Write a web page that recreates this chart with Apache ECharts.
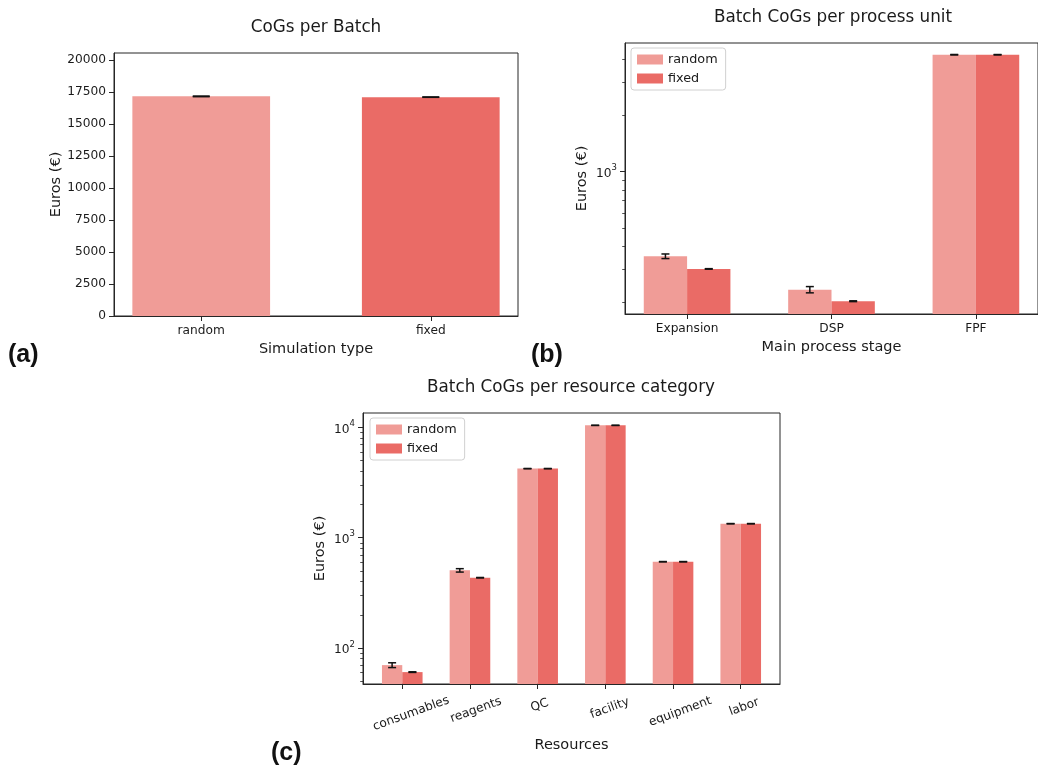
<!DOCTYPE html>
<html><head><meta charset="utf-8">
<script src="https://cdn.jsdelivr.net/npm/echarts@6/dist/echarts.min.js"></script>
<style>html,body{margin:0;padding:0;background:#fff}#c{width:1038px;height:767px}</style>
</head><body><div id="c"></div>
<script>
// ---------- data ----------
const simCategories = ['random', 'fixed'];
const simValues = [17170, 17110];
const simErrors = [25, 15];
const simTicks = [0, 2500, 5000, 7500, 10000, 12500, 15000, 17500, 20000];

const stageCategories = ['Expansion', 'DSP', 'FPF'];
const stageRandom = [352, 233, 4240];
const stageFixed = [301, 202, 4240];
const stageRandomErr = [10, 9, 12];
const stageFixedErr = [1, 1, 10];
const stageMajorTicks = [1000];
const stageMinorTicks = [200, 300, 400, 500, 600, 700, 800, 900, 2000, 3000, 4000];

const resourceCategories = ['consumables', 'reagents', 'QC', 'facility', 'equipment', 'labor'];
const resourceRandom = [70, 506, 4230, 10430, 606, 1340];
const resourceFixed = [60.5, 434, 4230, 10430, 606, 1340];
const resourceRandomErr = [3.5, 18, 10, 25, 2, 4];
const resourceFixedErr = [0.4, 2, 10, 25, 2, 4];
const resourceMajorTicks = [100, 1000, 10000];
const resourceMinorTicks = [50, 60, 70, 80, 90, 200, 300, 400, 500, 600, 700, 800, 900,
  2000, 3000, 4000, 5000, 6000, 7000, 8000, 9000];

// ---------- styles ----------
const FONT = 'DejaVu Sans';
const C_RANDOM = '#F09C97';
const C_FIXED = '#EA6B66';
const AX = '#262626';
const TXT = '#1a1a1a';
const TICK_FS = 12.2;

function barRender(offset, width) {
  return function (params, api) {
    const x = api.value(0), y = api.value(1);
    const l = api.coord([x + offset - width / 2, y]);
    const r = api.coord([x + offset + width / 2, y]);
    const cs = params.coordSys;
    const bottom = cs.y + cs.height;
    return { type: 'rect', shape: { x: l[0], y: l[1], width: r[0] - l[0], height: bottom - l[1] },
      style: { fill: api.visual('color') } };
  };
}
function errRender(offset, capHalf) {
  return function (params, api) {
    const x = api.value(0) + offset, y = api.value(1), e = api.value(2);
    const lo = api.coord([x, y - e]);
    const hi = api.coord([x, y + e]);
    const st = { stroke: '#111', lineWidth: 1.5 };
    return { type: 'group', children: [
      { type: 'line', shape: { x1: lo[0], y1: lo[1], x2: hi[0], y2: hi[1] }, style: st },
      { type: 'line', shape: { x1: lo[0] - capHalf, y1: lo[1], x2: lo[0] + capHalf, y2: lo[1] }, style: st },
      { type: 'line', shape: { x1: hi[0] - capHalf, y1: hi[1], x2: hi[0] + capHalf, y2: hi[1] }, style: st }
    ] };
  };
}

function powLabel(v) {
  const e = Math.round(Math.log10(v));
  return '{b|10}{s|' + e + '}';
}
const powRich = {
  b: { fontFamily: FONT, fontSize: TICK_FS, color: TXT, lineHeight: 16, verticalAlign: 'bottom' },
  s: { fontFamily: FONT, fontSize: 8.5, color: TXT, lineHeight: 16, verticalAlign: 'top' }
};

// per-label padding so rotated labels sit like matplotlib's (center-aligned bounding box)
const mctx = document.createElement('canvas').getContext('2d');
mctx.font = TICK_FS + 'px "' + FONT + '"';
const ROT = 20 * Math.PI / 180;
const rotRich = {};
resourceCategories.forEach((name, i) => {
  const w = mctx.measureText(name).width;
  const s = 0.5 * w * Math.sin(ROT);
  const pl = 2 * s * Math.sin(ROT);
  const pt = 2 * s * Math.cos(ROT);
  rotRich['r' + i] = { fontFamily: FONT, fontSize: TICK_FS, color: TXT, padding: [pt, 0, 0, pl] };
});

const axisNameStyle = { fontFamily: FONT, fontSize: 14.5, color: TXT };
const tickLabelStyle = { fontFamily: FONT, fontSize: TICK_FS, color: TXT };

const grids = [
  { left: 114, top: 53, width: 404, height: 263 },
  { left: 625, top: 43, width: 417, height: 271 },
  { left: 363, top: 413, width: 417, height: 271 }
].map(g => Object.assign(g, { show: true, borderColor: AX, borderWidth: 1, backgroundColor: 'transparent' }));

function xValueAxis(gridIndex, min, max, cats, name, nameGap) {
  const idx = cats.map((c, i) => i);
  return {
    type: 'value', gridIndex, min, max, name, nameLocation: 'middle', nameGap,
    nameTextStyle: axisNameStyle,
    splitLine: { show: false },
    axisLine: { show: true, onZero: false, lineStyle: { color: AX, width: 1 } },
    axisTick: { show: true, customValues: idx, length: 5, lineStyle: { color: AX } },
    axisLabel: Object.assign({ customValues: idx, formatter: v => cats[Math.round(v)], margin: 9 }, tickLabelStyle)
  };
}

const legendBase = { data: ['random', 'fixed'], orient: 'vertical', icon: 'rect',
  itemWidth: 26, itemHeight: 10, itemGap: 6, padding: [5, 8, 5, 6],
  backgroundColor: '#fff', borderColor: '#d0d0d0', borderWidth: 1, borderRadius: 3,
  textStyle: { fontFamily: FONT, fontSize: 12.8, color: TXT } };

const option = {
  animation: false,
  backgroundColor: '#fff',
  grid: grids,
  legend: [
    Object.assign({ left: 631, top: 48 }, legendBase),
    Object.assign({ left: 370, top: 418 }, legendBase)
  ],
  xAxis: [
    xValueAxis(0, -0.38, 1.38, simCategories, 'Simulation type', 26),
    xValueAxis(1, -0.43, 2.43, stageCategories, 'Main process stage', 26),
    (function () {
      const a = xValueAxis(2, -0.58, 5.58, resourceCategories, 'Resources', 54);
      a.axisLabel = { customValues: resourceCategories.map((c, i) => i), rotate: 20, align: 'center',
        verticalAlign: 'middle', margin: 19, formatter: v => { const i = Math.round(v); return '{r' + i + '|' + resourceCategories[i] + '}'; },
        rich: rotRich };
      return a;
    })()
  ],
  yAxis: [
    { type: 'value', gridIndex: 0, min: 0, max: 20560, name: 'Euros (€)', nameLocation: 'middle', nameGap: 49,
      nameTextStyle: axisNameStyle, splitLine: { show: false },
      axisLine: { show: true, onZero: false, lineStyle: { color: AX } },
      axisTick: { show: true, customValues: simTicks, length: 5, lineStyle: { color: AX } },
      axisLabel: Object.assign({ customValues: simTicks, margin: 8, formatter: v => String(v) }, tickLabelStyle) },
    { type: 'log', gridIndex: 1, min: 172.5, max: 4900, name: 'Euros (€)', nameLocation: 'middle', nameGap: 35,
      nameTextStyle: axisNameStyle, splitLine: { show: false }, position: 'left',
      axisLine: { show: true, onZero: false, lineStyle: { color: AX } },
      axisTick: { show: true, customValues: stageMajorTicks, length: 5, lineStyle: { color: AX } },
      axisLabel: { customValues: stageMajorTicks, margin: 8, formatter: powLabel, rich: powRich } },
    { type: 'log', gridIndex: 1, min: 172.5, max: 4900, position: 'left', splitLine: { show: false },
      axisLine: { show: false, onZero: false }, axisLabel: { show: false },
      axisTick: { show: true, customValues: stageMinorTicks, length: 2.8, lineStyle: { color: AX, width: 0.8 } } },
    { type: 'log', gridIndex: 2, min: 47.2, max: 13500, name: 'Euros (€)', nameLocation: 'middle', nameGap: 35,
      nameTextStyle: axisNameStyle, splitLine: { show: false }, position: 'left',
      axisLine: { show: true, onZero: false, lineStyle: { color: AX } },
      axisTick: { show: true, customValues: resourceMajorTicks, length: 5, lineStyle: { color: AX } },
      axisLabel: { customValues: resourceMajorTicks, margin: 8, formatter: powLabel, rich: powRich } },
    { type: 'log', gridIndex: 2, min: 47.2, max: 13500, position: 'left', splitLine: { show: false },
      axisLine: { show: false, onZero: false }, axisLabel: { show: false },
      axisTick: { show: true, customValues: resourceMinorTicks, length: 2.8, lineStyle: { color: AX, width: 0.8 } } }
  ],
  series: [
    // panel (a)
    { type: 'custom', name: 'CoGs per Batch', xAxisIndex: 0, yAxisIndex: 0, renderItem: barRender(0, 0.6),
      data: simValues.map((v, i) => ({ value: [i, v], itemStyle: { color: i === 0 ? C_RANDOM : C_FIXED } })),
      encode: { x: 0, y: 1 }, z: 2 },
    { type: 'custom', name: 'err-a', xAxisIndex: 0, yAxisIndex: 0, renderItem: errRender(0, 8.5),
      data: simValues.map((v, i) => [i, v, simErrors[i]]), encode: { x: 0, y: 1 }, z: 3 },
    // panel (b)
    { type: 'custom', name: 'random', xAxisIndex: 1, yAxisIndex: 1, renderItem: barRender(-0.15, 0.3),
      itemStyle: { color: C_RANDOM }, data: stageRandom.map((v, i) => [i, v]), encode: { x: 0, y: 1 }, z: 2 },
    { type: 'custom', name: 'fixed', xAxisIndex: 1, yAxisIndex: 1, renderItem: barRender(0.15, 0.3),
      itemStyle: { color: C_FIXED }, data: stageFixed.map((v, i) => [i, v]), encode: { x: 0, y: 1 }, z: 2 },
    { type: 'custom', name: 'err-b1', xAxisIndex: 1, yAxisIndex: 1, renderItem: errRender(-0.15, 4),
      data: stageRandom.map((v, i) => [i, v, stageRandomErr[i]]), encode: { x: 0, y: 1 }, z: 3 },
    { type: 'custom', name: 'err-b2', xAxisIndex: 1, yAxisIndex: 1, renderItem: errRender(0.15, 4),
      data: stageFixed.map((v, i) => [i, v, stageFixedErr[i]]), encode: { x: 0, y: 1 }, z: 3 },
    // panel (c)
    { type: 'custom', name: 'random', xAxisIndex: 2, yAxisIndex: 3, renderItem: barRender(-0.15, 0.3),
      itemStyle: { color: C_RANDOM }, data: resourceRandom.map((v, i) => [i, v]), encode: { x: 0, y: 1 }, z: 2 },
    { type: 'custom', name: 'fixed', xAxisIndex: 2, yAxisIndex: 3, renderItem: barRender(0.15, 0.3),
      itemStyle: { color: C_FIXED }, data: resourceFixed.map((v, i) => [i, v]), encode: { x: 0, y: 1 }, z: 2 },
    { type: 'custom', name: 'err-c1', xAxisIndex: 2, yAxisIndex: 3, renderItem: errRender(-0.15, 4),
      data: resourceRandom.map((v, i) => [i, v, resourceRandomErr[i]]), encode: { x: 0, y: 1 }, z: 3 },
    { type: 'custom', name: 'err-c2', xAxisIndex: 2, yAxisIndex: 3, renderItem: errRender(0.15, 4),
      data: resourceFixed.map((v, i) => [i, v, resourceFixedErr[i]]), encode: { x: 0, y: 1 }, z: 3 }
  ],
  graphic: [
    { type: 'text', x: 316, y: 28, style: { text: 'CoGs per Batch', align: 'center', verticalAlign: 'middle', font: '16.8px "DejaVu Sans"', fill: TXT } },
    { type: 'text', x: 833, y: 18, style: { text: 'Batch CoGs per process unit', align: 'center', verticalAlign: 'middle', font: '16.8px "DejaVu Sans"', fill: TXT } },
    { type: 'text', x: 571, y: 388, style: { text: 'Batch CoGs per resource category', align: 'center', verticalAlign: 'middle', font: '16.8px "DejaVu Sans"', fill: TXT } },
    { type: 'text', x: 8, y: 355, style: { text: '(a)', align: 'left', verticalAlign: 'middle', font: 'bold 25px "Liberation Sans"', fill: '#111' } },
    { type: 'text', x: 531, y: 355, style: { text: '(b)', align: 'left', verticalAlign: 'middle', font: 'bold 25px "Liberation Sans"', fill: '#111' } },
    { type: 'text', x: 271, y: 753, style: { text: '(c)', align: 'left', verticalAlign: 'middle', font: 'bold 25px "Liberation Sans"', fill: '#111' } }
  ]
};

const chart = echarts.init(document.getElementById('c'), null, { renderer: 'canvas' });
chart.setOption(option);
</script>
</body></html>
